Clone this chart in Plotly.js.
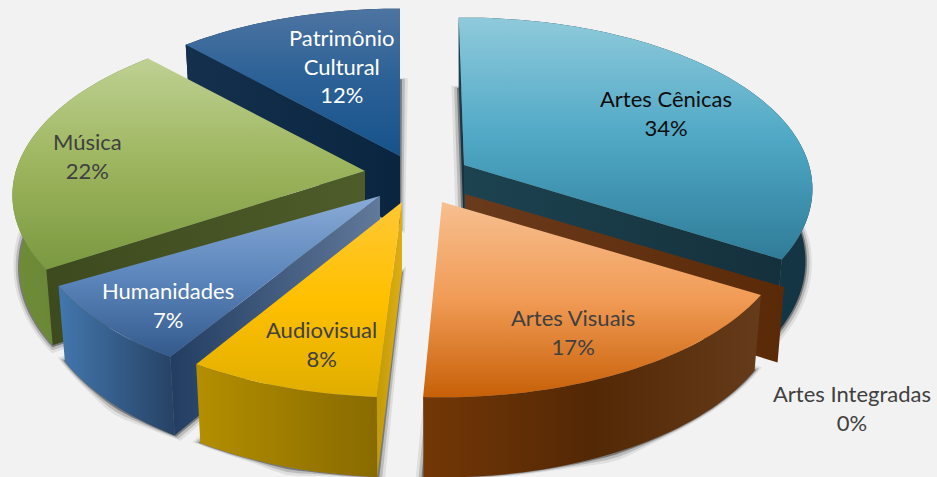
<!DOCTYPE html>
<html>
<head>
<meta charset="utf-8">
<script src="https://cdn.plot.ly/plotly-3.0.1.min.js"></script>
<style>html,body{margin:0;padding:0;background:#f2f2f2}#chart{width:937px;height:477px}</style>
</head>
<body>
<div id="chart"></div>
<script>
// Data
var categories = ['Artes Cênicas','Artes Integradas','Artes Visuais','Audiovisual','Humanidades','Música','Patrimônio<br>Cultural'];
var values = [34,0,17,8,7,22,12];

// Geometry of the exploded slices
var centerX = [464,465,442,402,380,365,400];
var centerY = [165,194,202,202,196,171,156];
var rotation = [-1,-1.5,-1.5,0,0,0,0];
var endAdjust = [0,0,0.6,-0.7,2.5,0,0];
var radiusScale = [1,1,1,1,1,1.012,1];
var labelX = [666,852,573,321,168,87,341];
var labelY = [113,408,332,344,305,156,66];
var labelColor = ['#0d0d0d','#404040','#404040','#404040','#ffffff','#404040','#ffffff'];
var radiusX = 345, radiusY = 168, perspective = 0.14;

// Styles: top-face vertical gradients, outer and radial wall horizontal gradients
var topColors = [
  ['#2f7c98','#4fa8c5','#8fcadb'],
  ['#6a3a1c','#6a3a1c','#6a3a1c'],
  ['#c76008','#f19b55','#f7bf90'],
  ['#e0ae00','#ffc000','#ffc835'],
  ['#345a8c','#5c86bc','#8aabd6'],
  ['#7a9940','#9db55e','#bed193'],
  ['#16538b','#2a6096','#4d74a1']
];
var outerColors = [
  ['#12323f','#143644'],
  ['#5a2a08','#5a2a08'],
  ['#733706','#532805','#663b1b'],
  ['#b48f00','#886a00'],
  ['#4377ae','#264264'],
  ['#6f8d38','#5e7a30'],
  ['#0a2540','#0a2540']
];
var wallColors = [
  ['#1d4350','#14303c'],
  ['#6a3a1c','#5a2a08'],
  ['#5a2a08','#5a2a08'],
  ['#c29a08','#dcae14'],
  ['#223d62','#61799a'],
  ['#3d4a1e','#4e5c2a'],
  ['#14304c','#0a2540']
];

function ramp(list){
  return list.map(function(c,i){ return [i/(list.length-1), c]; });
}
function project(i, theta, lower){
  var a = theta*Math.PI/180, u = Math.sin(a), v = -Math.cos(a);
  var s = radiusScale[i]/(1 - perspective*v);
  var X = radiusX*u*s, Y = radiusY*v*s;
  if(!lower) return [centerX[i]+X, centerY[i]+Y];
  return [centerX[i]+X*0.98, centerY[i]+Y+71+9*Math.max(v,0)];
}
function apex(i, lower){
  return [centerX[i], centerY[i]+(lower?71:0)];
}
function arc(i, a1, a2, lower){
  var pts = [], n = Math.max(2, Math.ceil(Math.abs(a2-a1)/1.5));
  for(var k=0;k<=n;k++) pts.push(project(i, a1+(a2-a1)*k/n, lower));
  return pts;
}
function poly(pts, name, fill, gradient){
  var t = {
    type:'scatter', mode:'none', fill:'toself', name:name, hoverinfo:'skip',
    x:pts.map(function(p){return p[0];}).concat([pts[0][0]]),
    y:pts.map(function(p){return p[1];}).concat([pts[0][1]])
  };
  if(gradient) t.fillgradient = gradient; else t.fillcolor = fill;
  return t;
}
function grow(pts, px){
  var cx=0, cy=0;
  pts.forEach(function(p){cx+=p[0];cy+=p[1];});
  cx/=pts.length; cy/=pts.length;
  return pts.map(function(p){
    var dx=p[0]-cx, dy=p[1]-cy, d=Math.sqrt(dx*dx+dy*dy)||1;
    return [p[0]+px*dx/d, p[1]+px*dy/d];
  });
}

var total = values.reduce(function(a,b){return a+b;},0);
var cumulative = 0, starts = [], ends = [];
values.forEach(function(val,i){
  starts.push(cumulative/total*360+rotation[i]);
  cumulative += val;
  ends.push(cumulative/total*360+rotation[i]+endAdjust[i]);
});

var traces = [];
var names = categories.map(function(c){return c.replace('<br>',' ');});

// soft shadows under everything
values.forEach(function(val,i){
  if(val===0) return;
  var base = [apex(i,true)].concat(arc(i,starts[i],ends[i],true));
  [[8,0.08],[5,0.16],[2,0.35]].forEach(function(layer){
    traces.push(poly(grow(base,layer[0]), names[i]+' sombra', 'rgba(0,0,0,'+layer[1]+')'));
  });
});

// back-to-front painting order
var order = [6,5,0,4,3,1,2];
order.forEach(function(i){
  var a1 = starts[i], a2 = ends[i];
  var upper = arc(i,a1,a2,false), lower = arc(i,a1,a2,true);
  if(values[i] > 0){
    traces.push(poly(upper.concat(lower.slice().reverse()), names[i]+' borda', null,
      {type:'horizontal', colorscale:ramp(outerColors[i])}));
  }
  if(Math.sin(a1*Math.PI/180) < 0){
    traces.push(poly([apex(i,false),project(i,a1,false),project(i,a1,true),apex(i,true)], names[i]+' lado', null,
      {type:'horizontal', colorscale:ramp(wallColors[i])}));
  }
  if(Math.sin(a2*Math.PI/180) > 0){
    traces.push(poly([apex(i,false),project(i,a2,false),project(i,a2,true),apex(i,true)], names[i]+' lado', null,
      {type:'horizontal', colorscale:ramp(wallColors[i])}));
  }
  if(values[i] > 0){
    traces.push(poly([apex(i,false)].concat(upper), names[i], null,
      {type:'vertical', colorscale:ramp(topColors[i])}));
  }
});

var annotations = categories.map(function(c,i){
  return {
    x:labelX[i], y:labelY[i], xref:'x', yref:'y', showarrow:false,
    xanchor:'center', yanchor:'middle', align:'center',
    text:c+'<br>'+values[i]+'%',
    font:{family:'Lato, "Open Sans", sans-serif', size:22, color:labelColor[i]}
  };
});

var layout = {
  width:937, height:477,
  margin:{l:0,r:0,t:0,b:0},
  paper_bgcolor:'#f2f2f2', plot_bgcolor:'#f2f2f2',
  showlegend:false,
  xaxis:{range:[0,937], visible:false, fixedrange:true},
  yaxis:{range:[477,0], visible:false, fixedrange:true},
  annotations:annotations
};
Plotly.newPlot('chart', traces, layout, {displayModeBar:false, staticPlot:true});
</script>
</body>
</html>
